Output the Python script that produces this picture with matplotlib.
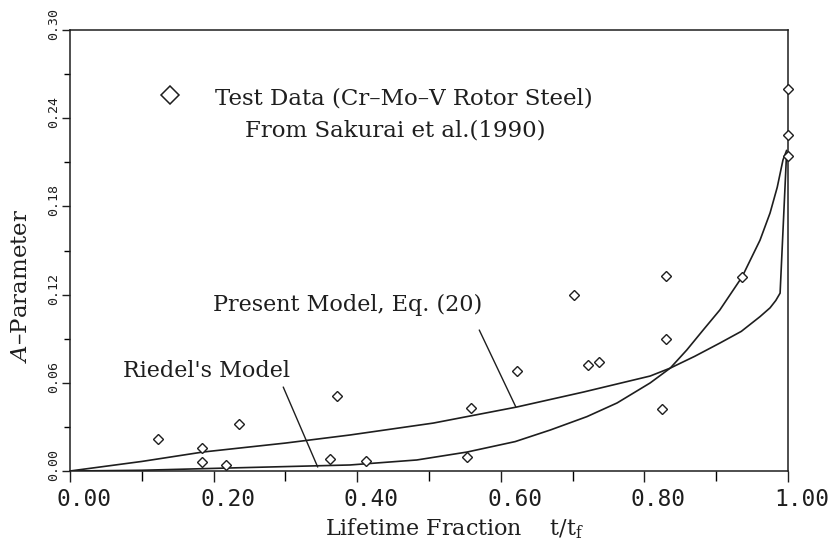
import matplotlib
matplotlib.use("Agg")
import matplotlib.pyplot as plt
from matplotlib.ticker import MultipleLocator, FixedLocator
import matplotlib.transforms as mtransforms

plt.rcParams['font.family'] = ['DejaVu Serif']
plt.rcParams['mathtext.fontset'] = 'dejavuserif'

# test data (Sakurai et al. 1990)
test_x = [0.122, 0.184, 0.184, 0.217, 0.235, 0.362, 0.372, 0.412, 0.553, 0.558,
          0.622, 0.702, 0.721, 0.737, 0.825, 0.830, 0.830, 0.936, 1.0, 1.0, 1.0]
test_y = [0.0218, 0.0156, 0.0061, 0.0040, 0.0320, 0.0082, 0.0510, 0.0068, 0.0095, 0.0429,
          0.0680, 0.1200, 0.0720, 0.0740, 0.0422, 0.0898, 0.1327, 0.1320, 0.2600, 0.2286, 0.2140]

# present model, Eq. (20)
present_x = [0.0, 0.1, 0.185, 0.3, 0.39, 0.506, 0.622, 0.715, 0.808, 0.836,
             0.87, 0.905, 0.935, 0.961, 0.975, 0.983, 0.989, 0.998]
present_y = [0.0, 0.0065, 0.0129, 0.019, 0.0245, 0.0326, 0.0435, 0.0537, 0.0646, 0.070,
             0.078, 0.087, 0.095, 0.105, 0.111, 0.116, 0.121, 0.216]

# Riedel's model
riedel_x = [0.0, 0.1, 0.218, 0.3, 0.39, 0.483, 0.553, 0.62, 0.669, 0.72, 0.762, 0.808,
            0.836, 0.859, 0.882, 0.905, 0.936, 0.961, 0.975, 0.985, 0.993, 0.998]
riedel_y = [0.0, 0.0005, 0.002, 0.003, 0.0041, 0.0075, 0.0129, 0.020, 0.0279, 0.037, 0.0463, 0.0599,
            0.070, 0.0823, 0.096, 0.1095, 0.132, 0.157, 0.1755, 0.193, 0.2116, 0.218]

x_ticks = [0.0, 0.2, 0.4, 0.6, 0.8, 1.0]
x_labels = ["0.00", "0.20", "0.40", "0.60", "0.80", "1.00"]
y_ticks = [0.0, 0.06, 0.12, 0.18, 0.24, 0.30]
y_labels = ["0.00", "0.06", "0.12", "0.18", "0.24", "0.30"]

fig = plt.figure(figsize=(8.33, 5.55), dpi=100)
ax = fig.add_axes([70 / 833, 84 / 555, 718 / 833, 441 / 555])

lc = '#1e1e1e'
ax.plot(present_x, present_y, color=lc, lw=1.2)
ax.plot(riedel_x, riedel_y, color=lc, lw=1.2)
ax.plot(test_x, test_y, linestyle='none', marker='D', ms=5.5, mfc='white',
        mec=lc, mew=1.0, zorder=3, clip_on=False)

ax.set_xlim(0, 1.0)
ax.set_ylim(0, 0.30)

ax.xaxis.set_major_locator(FixedLocator(x_ticks))
ax.set_xticklabels(x_labels)
ax.xaxis.set_minor_locator(MultipleLocator(0.1))
ax.yaxis.set_major_locator(FixedLocator(y_ticks))
ax.set_yticklabels(y_labels)
ax.yaxis.set_minor_locator(MultipleLocator(0.03))

ax.tick_params(axis='x', which='major', direction='out', length=8, width=1, pad=4,
               labelsize=16.5, colors=lc)
ax.tick_params(axis='x', which='minor', direction='out', length=7, width=1)
ax.tick_params(axis='y', which='major', direction='out', length=6, width=1, pad=1,
               labelsize=9.5, colors=lc)
ax.tick_params(axis='y', which='minor', direction='out', length=4, width=1)

for lab in ax.get_xticklabels():
    lab.set_family('DejaVu Sans Mono')
    lab.set_transform(lab.get_transform() +
                      mtransforms.ScaledTranslation(14 / 100, 0, fig.dpi_scale_trans))
for lab in ax.get_yticklabels():
    lab.set_family('DejaVu Sans Mono')
    lab.set_rotation(90)
    lab.set_va('center')
    lab.set_transform(lab.get_transform() +
                      mtransforms.ScaledTranslation(0, 6 / 100, fig.dpi_scale_trans))

for sp in ax.spines.values():
    sp.set_linewidth(1.1)
    sp.set_color(lc)

ax.set_xlabel(r"Lifetime Fraction    t/t$_{\rm f}$", fontsize=16, color=lc)
ax.xaxis.set_label_coords(0.535, -0.103)
ax.xaxis.label.set_va('top')
ax.set_ylabel(r"$\it{A}$–Parameter", fontsize=16.5, color=lc)
ax.yaxis.set_label_coords(-0.053, 0.42)

# legend-like caption
ax.plot([0.139], [0.2558], marker='D', ms=9, mfc='white', mec=lc, mew=1.1,
        linestyle='none', clip_on=False)
ax.text(0.202, 0.2537, "Test Data (Cr–Mo–V Rotor Steel)", fontsize=16.5, color=lc,
        ha='left', va='center')
ax.text(0.2437, 0.2313, "From Sakurai et al.(1990)", fontsize=16.5, color=lc,
        ha='left', va='center')

# model labels with leader lines
ax.text(0.199, 0.1129, "Present Model, Eq. (20)", fontsize=16, color=lc,
        ha='left', va='center')
ax.annotate("", xy=(0.621, 0.0435), xytext=(0.570, 0.0959),
            arrowprops=dict(arrowstyle='-', color=lc, lw=1.0, shrinkA=0, shrinkB=0))
ax.text(0.074, 0.068, "Riedel's Model", fontsize=16, color=lc,
        ha='left', va='center')
ax.annotate("", xy=(0.345, 0.0027), xytext=(0.297, 0.0571),
            arrowprops=dict(arrowstyle='-', color=lc, lw=1.0, shrinkA=0, shrinkB=0))

fig.savefig("out.png", dpi=100)
